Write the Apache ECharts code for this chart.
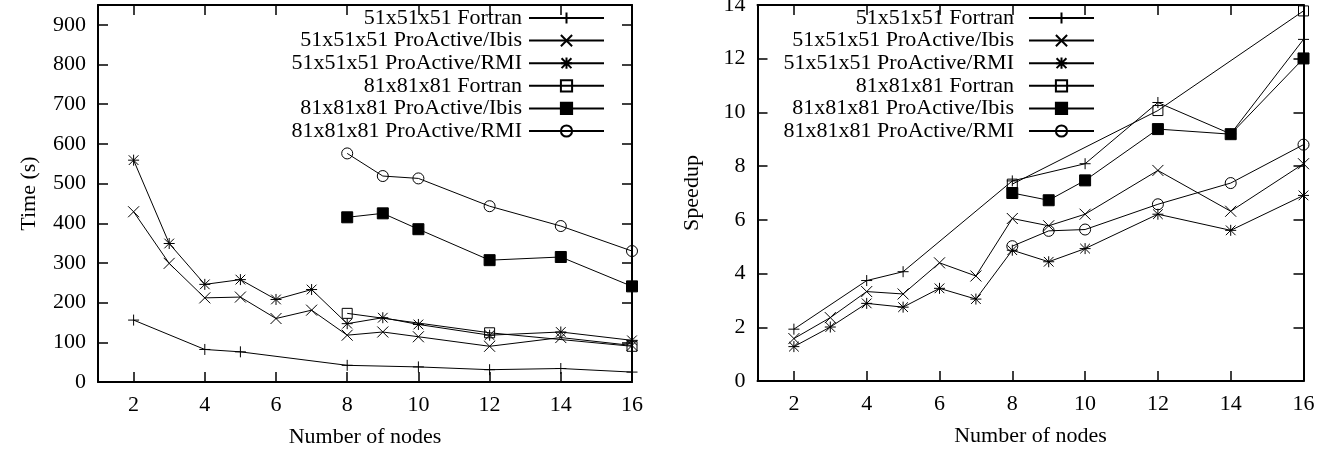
<!DOCTYPE html>
<html>
<head>
<meta charset="utf-8">
<script src="https://cdn.jsdelivr.net/npm/echarts@6/dist/echarts.min.js"></script>
<style>
  html, body { margin: 0; padding: 0; background: #fff; }
  #main { width: 1327px; height: 451px; }
</style>
</head>
<body>
<div id="main"></div>
<script>
// ---- data ----
var seriesNames = [
  '51x51x51 Fortran',
  '51x51x51 ProActive/Ibis',
  '51x51x51 ProActive/RMI',
  '81x81x81 Fortran',
  '81x81x81 ProActive/Ibis',
  '81x81x81 ProActive/RMI'
];

var nodesF51 = [2, 4, 5, 8, 10, 12, 14, 16];
var nodes51 = [2, 3, 4, 5, 6, 7, 8, 9, 10, 12, 14, 16];
var nodesF81 = [8, 12, 16];
var nodes81 = [8, 9, 10, 12, 14, 16];

// left chart: time (s)
var timeF51 = [156, 82, 76, 42, 38, 31, 34, 25];
var timeIbis51 = [429, 299, 212, 214, 160, 181, 118, 126, 114, 90, 112, 92];
var timeRmi51 = [559, 349, 246, 258, 208, 233, 147, 162, 145, 118, 126, 105];
var timeF81 = [173, 124, 90];
var timeIbis81 = [415, 425, 385, 307, 315, 241];
var timeRmi81 = [576, 519, 513, 443, 393, 330];

// right chart: speedup
var spF51 = [1.93, 3.74, 4.07, 7.45, 8.09, 10.37, 9.2, 12.72];
var spIbis51 = [1.58, 2.36, 3.33, 3.24, 4.40, 3.91, 6.05, 5.78, 6.21, 7.84, 6.32, 8.09];
var spRmi51 = [1.28, 2.01, 2.89, 2.75, 3.45, 3.05, 4.87, 4.44, 4.93, 6.21, 5.61, 6.91];
var spF81 = [7.33, 10.07, 13.78];
var spIbis81 = [7.0, 6.73, 7.47, 9.38, 9.19, 12.01];
var spRmi81 = [5.02, 5.59, 5.64, 6.58, 7.37, 8.8];

var nodeTicks = [2, 4, 6, 8, 10, 12, 14, 16];
var timeTicks = [0, 100, 200, 300, 400, 500, 600, 700, 800, 900];
var speedTicks = [0, 2, 4, 6, 8, 10, 12, 14];

// ---- styling ----
var FONT = 'Liberation Serif';
var FS = 22;
var PLUS = 'path://M5,0L5,10M0,5L10,5';
var CROSS = 'path://M0,0L10,10M10,0L0,10';
var STAR = 'path://M5,0L5,10M0,5L10,5M0.6,0.6L9.4,9.4M9.4,0.6L0.6,9.4';

var marks = [
  { symbol: PLUS, size: 11, fill: 'transparent' },
  { symbol: CROSS, size: 11, fill: 'transparent' },
  { symbol: STAR, size: 11, fill: 'transparent' },
  { symbol: 'rect', size: 10, fill: 'transparent' },
  { symbol: 'rect', size: 11, fill: '#000' },
  { symbol: 'circle', size: 11, fill: 'transparent' }
];

function pairs(xs, ys) {
  return xs.map(function (x, i) { return [x, ys[i]]; });
}

function makeSeries(idx, gi, xs, ys) {
  var m = marks[idx];
  return {
    name: seriesNames[idx],
    type: 'line',
    xAxisIndex: gi * 2,
    yAxisIndex: gi * 2,
    data: pairs(xs, ys),
    symbol: m.symbol,
    symbolSize: m.size,
    showAllSymbol: true,
    clip: false,
    lineStyle: { color: '#000', width: 1 },
    itemStyle: { color: m.fill, borderColor: '#000', borderWidth: 1 },
    emphasis: { disabled: true },
    z: 2 + idx
  };
}

function xPair(gi) {
  var base = {
    gridIndex: gi, type: 'value', min: 1, max: 16,
    axisLine: { onZero: false, lineStyle: { color: '#000', width: 2 } },
    axisTick: { inside: true, length: 10, customValues: nodeTicks, lineStyle: { color: '#000', width: 1.5 } },
    splitLine: { show: false }
  };
  var bottom = Object.assign({}, base, {
    position: 'bottom',
    name: 'Number of nodes', nameLocation: 'middle', nameGap: 44,
    nameTextStyle: { fontFamily: FONT, fontSize: FS, color: '#000' },
    axisLabel: { customValues: nodeTicks, margin: 12, fontFamily: FONT, fontSize: FS, color: '#000' }
  });
  var top = Object.assign({}, base, { position: 'top', axisLabel: { show: false } });
  return [bottom, top];
}

function yPair(gi, max, ticks, title, gap) {
  var base = {
    gridIndex: gi, type: 'value', min: 0, max: max,
    axisLine: { show: true, onZero: false, lineStyle: { color: '#000', width: 2 } },
    axisTick: { show: true, inside: true, length: 10, customValues: ticks, lineStyle: { color: '#000', width: 1.5 } },
    splitLine: { show: false }
  };
  var left = Object.assign({}, base, {
    position: 'left',
    name: title, nameLocation: 'middle', nameGap: gap, nameRotate: 90,
    nameTextStyle: { fontFamily: FONT, fontSize: FS, color: '#000' },
    axisLabel: { customValues: ticks, margin: 12, fontFamily: FONT, fontSize: FS, color: '#000' }
  });
  var right = Object.assign({}, base, { position: 'right', axisLabel: { show: false } });
  return [left, right];
}

// one legend per row so the sample lines line up like gnuplot's key
var rowCenters = [18, 40.6, 63.2, 85.8, 108.4, 131];
function legends(rightEdge, itemW, textPad) {
  return seriesNames.map(function (n, i) {
    return {
      data: [n],
      orient: 'vertical',
      align: 'right',
      right: 1327 - rightEdge,
      top: rowCenters[i] - 11,
      padding: 0,
      itemWidth: itemW,
      itemHeight: 14,
      selectedMode: false,
      textStyle: { fontFamily: FONT, fontSize: FS, color: '#000', padding: [0, textPad, 0, 0] }
    };
  });
}

var chart = echarts.init(document.getElementById('main'), null, { renderer: 'canvas' });

var option = {
  animation: false,
  backgroundColor: '#fff',
  grid: [
    { left: 98, top: 5, width: 534, height: 377, outerBoundsMode: 'none' },
    { left: 757.5, top: 5, width: 546, height: 376, outerBoundsMode: 'none' }
  ],
  xAxis: xPair(0).concat(xPair(1)),
  yAxis: yPair(0, 950, timeTicks, 'Time (s)', 58).concat(yPair(1, 14, speedTicks, 'Speedup', 54)),
  legend: legends(605, 75, 2).concat(legends(1095, 65, 10)),
  series: [
    makeSeries(0, 0, nodesF51, timeF51),
    makeSeries(1, 0, nodes51, timeIbis51),
    makeSeries(2, 0, nodes51, timeRmi51),
    makeSeries(3, 0, nodesF81, timeF81),
    makeSeries(4, 0, nodes81, timeIbis81),
    makeSeries(5, 0, nodes81, timeRmi81),
    makeSeries(0, 1, nodesF51, spF51),
    makeSeries(1, 1, nodes51, spIbis51),
    makeSeries(2, 1, nodes51, spRmi51),
    makeSeries(3, 1, nodesF81, spF81),
    makeSeries(4, 1, nodes81, spIbis81),
    makeSeries(5, 1, nodes81, spRmi81)
  ]
};

chart.setOption(option);
</script>
</body>
</html>
